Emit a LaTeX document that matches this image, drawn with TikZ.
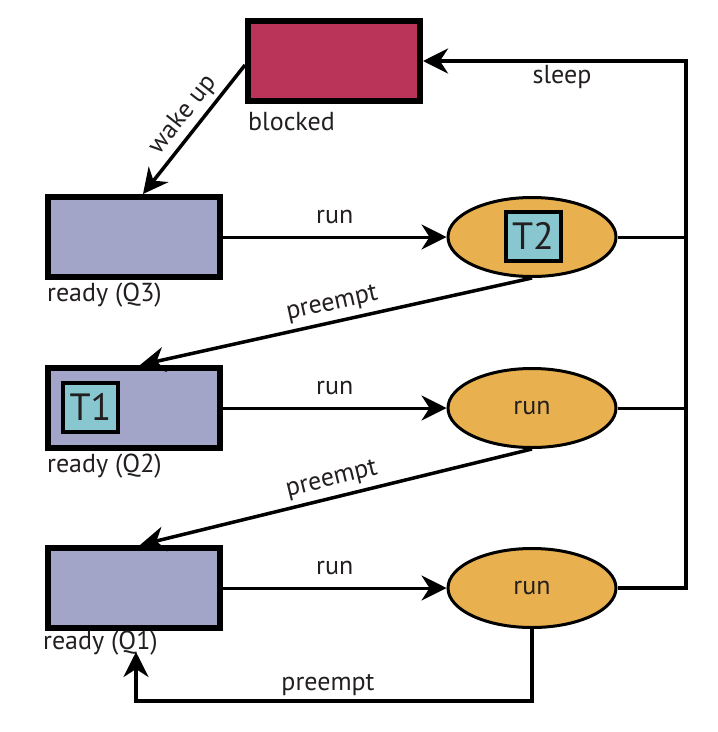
\documentclass[tikz,border=0pt]{standalone}
\usepackage{fontspec}
\setmainfont{PT Sans}
\usetikzlibrary{arrows.meta,shapes.geometric,calc}
\definecolor{blockcol}{HTML}{BA3459}
\definecolor{readycol}{HTML}{A2A5C8}
\definecolor{runcol}{HTML}{E8B04E}
\definecolor{tcol}{HTML}{88C7D0}
\definecolor{txtcol}{HTML}{231F20}
\begin{document}
\begin{tikzpicture}[x=1pt,y=-1pt,
  box/.style={draw, line width=6pt, minimum width=172pt, minimum height=80pt, inner sep=0pt},
  ell/.style={ellipse, draw, line width=3pt, fill=runcol, minimum width=168pt, minimum height=79pt, inner sep=0pt, font=\fontsize{26}{30}\selectfont, text=txtcol},
  tbox/.style={draw, line width=4pt, fill=tcol, minimum width=55pt, minimum height=49pt, inner sep=0pt, font=\fontsize{38}{42}\selectfont, text=txtcol},
  lbl/.style={font=\fontsize{26}{30}\selectfont, inner sep=0pt, text=txtcol},
  arr/.style={-{Stealth[length=25pt,width=25pt,inset=8pt]}},
]
\useasboundingbox (0,0) rectangle (718,732);
% boxes
\node[box, fill=blockcol] (blocked) at (334,61) {};
\node[box, fill=readycol] (q3) at (134,237) {};
\node[box, fill=readycol] (q2) at (134,408) {};
\node[box, fill=readycol] (q1) at (134,588) {};
\node[tbox] (t1) at (90.5,407) {T1};
% ellipses
\node[ell] (e1) at (532,237) {};
\node[tbox] (t2) at (533,236) {T2};
\node[ell] (e2) at (532,408) {run};
\node[ell] (e3) at (532,588) {run};
% box labels
\node[lbl, anchor=base west] (lb) at (248,130) {blocked};
\node[lbl, anchor=base west] (l3) at (47,301) {ready (Q3)};
\node[lbl, anchor=base west] (l2) at (47,472) {ready (Q2)};
\node[lbl, anchor=base west] (l1) at (43,649) {ready (Q1)};
% run arrows
\draw[arr, line width=3pt] (q3.east) -- node[lbl, above=12pt] (r1) {run} (e1.west);
\draw[arr, line width=3pt] (q2.east) -- node[lbl, above=12pt] (r2) {run} (e2.west);
\draw[arr, line width=3pt] (q1.east) -- node[lbl, above=12pt] (r3) {run} (e3.west);
% right loop and sleep
\coordinate (rt) at (686,61);
\coordinate (v1) at (686,237);
\coordinate (v2) at (686,408);
\draw[line width=3pt] (e1.east) -- (v1);
\draw[line width=3pt] (e2.east) -- (v2);
\draw[arr, line width=4pt] (e3.east) -| (rt) -- (blocked.east);
\node[lbl, anchor=base] (sl) at (562,83) {sleep};
% wake up
\draw[arr, line width=3.5pt] ($(blocked.west)+(0,4)$) -- node[lbl, sloped, above=4pt, pos=0.47] (wk) {wake up} ($(q3.north)+(9,0)$);
% preempt diagonals
\draw[arr, line width=3.5pt] (e1.south) -- node[lbl, sloped, above=5pt] (p1) {preempt} ($(q2.north)+(6,0)$);
\draw[arr, line width=3.5pt] (e2.south) -- node[lbl, sloped, above=5pt] (p2) {preempt} ($(q1.north)+(6,0)$);
% bottom preempt
\coordinate (bl) at (136,701);
\coordinate (pb) at (136,652);
\draw[arr, line width=3.5pt] (e3.south) |- (bl) -- (pb);
\node[lbl, anchor=base] (p3) at (328,690) {preempt};
\end{tikzpicture}
\end{document}
